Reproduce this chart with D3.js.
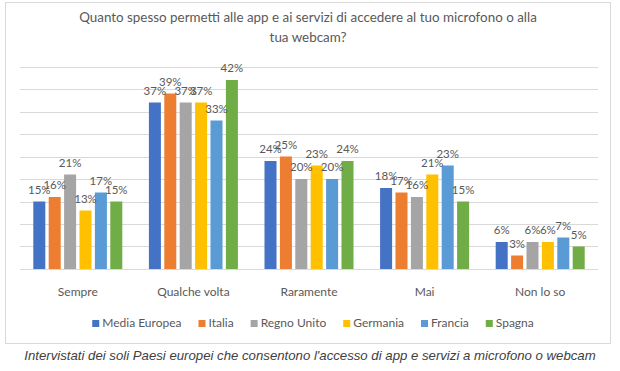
<!DOCTYPE html>
<html lang="it">
<head>
  <meta charset="UTF-8">
  <title>Accesso a microfono e webcam</title>
  <style>
    body { margin: 0; background: #fff; }
    svg { display: block; }
    text { font-family: Lato, "Open Sans", sans-serif; }
  </style>
</head>
<body>
  <div id="chart"></div>
  <script src="https://d3js.org/d3.v7.min.js"></script>
  <script>
    const width = 620
    const height = 371

    // dati
    const categories = ['Sempre', 'Qualche volta', 'Raramente', 'Mai', 'Non lo so']
    const seriesNames = ['Media Europea', 'Italia', 'Regno Unito', 'Germania', 'Francia', 'Spagna']
    const mediaEuropea = [15, 37, 24, 18, 6]
    const italia = [16, 39, 25, 17, 3]
    const regnoUnito = [21, 37, 20, 16, 6]
    const germania = [13, 37, 23, 21, 6]
    const francia = [17, 33, 20, 23, 7]
    const spagna = [15, 42, 24, 15, 5]
    const yTicks = [0, 5, 10, 15, 20, 25, 30, 35, 40, 45]

    const colors = ['#4472C4', '#ED7D31', '#A5A5A5', '#FFC000', '#5B9BD5', '#70AD47']
    const seriesValues = [mediaEuropea, italia, regnoUnito, germania, francia, spagna]

    const svg = d3.select('#chart').append('svg')
      .attr('width', width)
      .attr('height', height)

    // cornice del grafico
    svg.append('rect')
      .attr('x', 5.5).attr('y', 2.5)
      .attr('width', 605).attr('height', 341)
      .attr('fill', '#fff')
      .attr('stroke', '#d9d9d9')

    // titolo
    const title = svg.append('text')
      .attr('text-anchor', 'middle')
      .attr('fill', '#595959')
      .style('font-size', '13.4px')
    title.append('tspan').attr('x', 308).attr('y', 22)
      .text('Quanto spesso permetti alle app e ai servizi di accedere al tuo microfono o alla')
    title.append('tspan').attr('x', 308).attr('y', 42)
      .text('tua webcam?')

    const plot = { left: 20, right: 598, top: 66.5, bottom: 269 }

    const x0 = d3.scaleBand()
      .domain(categories)
      .range([plot.left, plot.right])
      .paddingInner(0.23)
      .paddingOuter(0.115)

    const x1 = d3.scaleBand()
      .domain(seriesNames)
      .range([0, x0.bandwidth()])
      .paddingInner(0.22)

    const y = d3.scaleLinear()
      .domain([0, 45])
      .range([plot.bottom, plot.top])

    // griglia
    svg.append('g')
      .selectAll('line')
      .data(yTicks)
      .join('line')
      .attr('x1', plot.left).attr('x2', plot.right)
      .attr('y1', d => Math.round(y(d)) + 0.5)
      .attr('y2', d => Math.round(y(d)) + 0.5)
      .attr('stroke', '#d9d9d9')

    // barre
    const groups = svg.append('g')
      .selectAll('g')
      .data(seriesNames)
      .join('g')
      .attr('fill', (d, i) => colors[i])

    groups.selectAll('rect')
      .data((s, i) => categories.map((c, j) => ({ s, c, v: seriesValues[i][j] })))
      .join('rect')
      .attr('x', d => x0(d.c) + x1(d.s))
      .attr('y', d => y(d.v))
      .attr('width', x1.bandwidth())
      .attr('height', d => y(0) - y(d.v))

    // etichette dei valori
    svg.append('g')
      .selectAll('text')
      .data(seriesNames.flatMap((s, i) => categories.map((c, j) => ({ s, c, v: seriesValues[i][j] }))))
      .join('text')
      .attr('x', d => x0(d.c) + x1(d.s) + x1.bandwidth() / 2)
      .attr('y', d => y(d.v) - 8)
      .attr('text-anchor', 'middle')
      .attr('fill', '#595959')
      .style('font-size', '11.5px')
      .text(d => d.v + '%')

    // asse delle categorie
    const xAxis = svg.append('g')
      .attr('transform', `translate(0, ${plot.bottom})`)
      .call(d3.axisBottom(x0).tickSize(0).tickPadding(18))
    xAxis.select('.domain').remove()
    xAxis.selectAll('text')
      .attr('fill', '#595959')
      .style('font-size', '12px')
      .style('font-family', 'Lato, "Open Sans", sans-serif')

    // legenda
    const legend = svg.append('g').attr('transform', 'translate(0, 327)')
    const items = legend.selectAll('g')
      .data(seriesNames)
      .join('g')
    items.append('rect')
      .attr('y', -7)
      .attr('width', 7).attr('height', 7)
      .attr('fill', (d, i) => colors[i])
    items.append('text')
      .attr('x', 10)
      .attr('y', 0)
      .attr('fill', '#595959')
      .style('font-size', '12px')
      .text(d => d)
    let pos = 0
    const offsets = []
    items.each(function () {
      offsets.push(pos)
      pos += 10 + this.querySelector('text').getComputedTextLength() + 17
    })
    const total = pos - 17
    const start = 313 - total / 2
    items.attr('transform', (d, i) => `translate(${start + offsets[i]}, 0)`)

    // nota
    svg.append('text')
      .attr('x', 310)
      .attr('y', 360)
      .attr('text-anchor', 'middle')
      .attr('fill', '#404040')
      .style('font-family', '"Liberation Sans", Arial, sans-serif')
      .style('font-style', 'italic')
      .style('font-size', '13.2px')
      .text("Intervistati dei soli Paesi europei che consentono l'accesso di app e servizi a microfono o webcam")
  </script>
</body>
</html>
